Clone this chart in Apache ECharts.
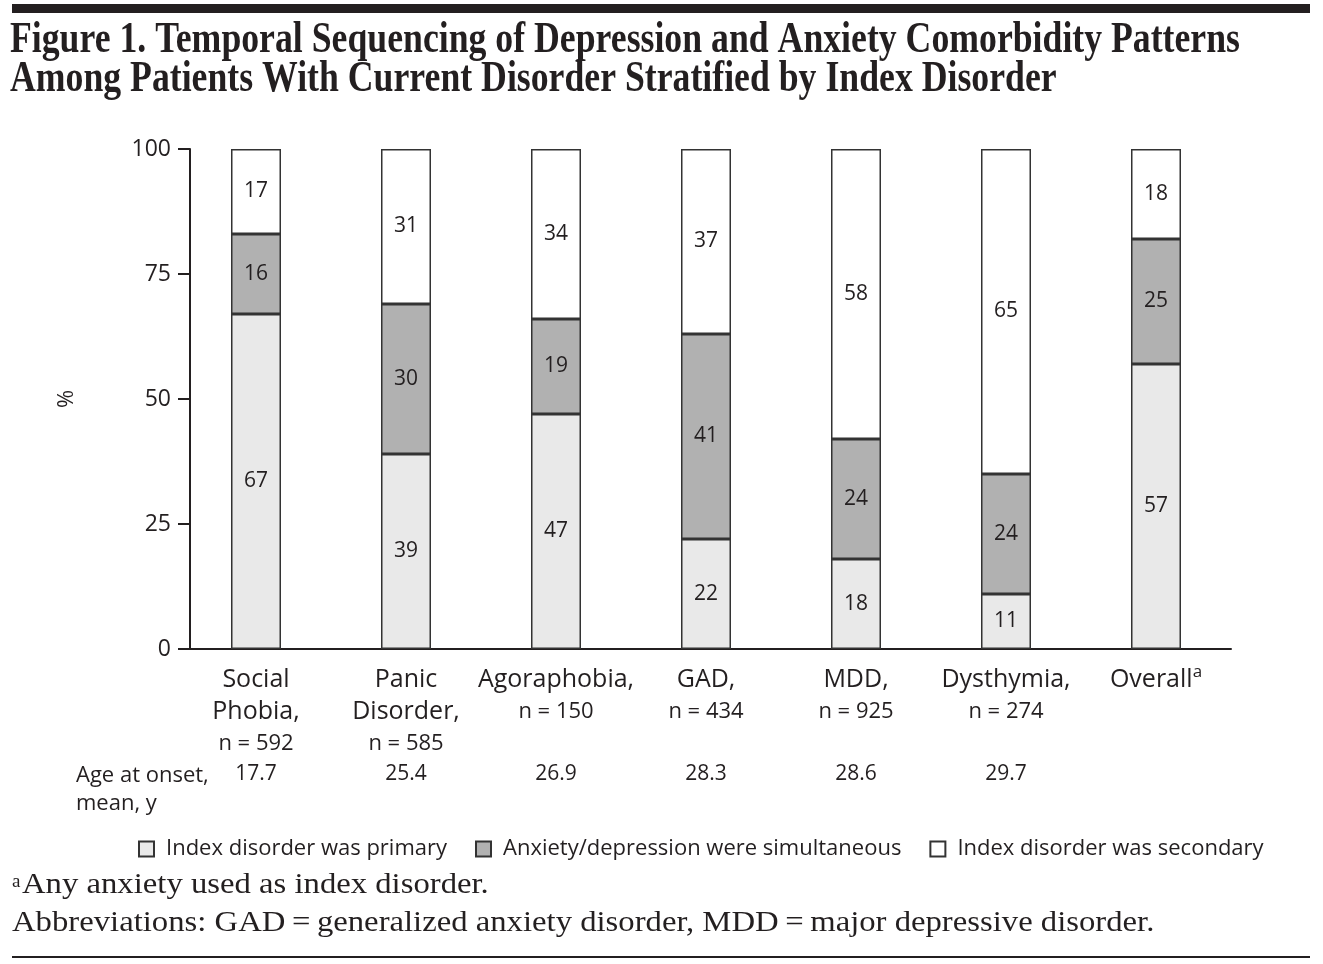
<!DOCTYPE html>
<html>
<head>
<meta charset="utf-8">
<script src="https://cdn.jsdelivr.net/npm/echarts@6/dist/echarts.min.js"></script>
<style>html,body{margin:0;padding:0;background:#fff;}#chart{width:1323px;height:964px;}</style>
</head>
<body>
<div id="chart"></div>
<script>
// ---- data ----
var categories = ['Social Phobia', 'Panic Disorder', 'Agoraphobia', 'GAD', 'MDD', 'Dysthymia', 'Overall'];
var nValues = [592, 585, 150, 434, 925, 274, null];
var ageAtOnset = [17.7, 25.4, 26.9, 28.3, 28.6, 29.7, null];
var primary = [67, 39, 47, 22, 18, 11, 57];
var simultaneous = [16, 30, 19, 41, 24, 24, 25];
var secondary = [17, 31, 34, 37, 58, 65, 18];
var seriesNames = ['Index disorder was primary', 'Anxiety/depression were simultaneous', 'Index disorder was secondary'];
var yTicks = [0, 25, 50, 75, 100];

var FONT = '"Open Sans", "Noto Sans", sans-serif';
var SERIF = '"Liberation Serif", "DejaVu Serif", serif';
var INK = '#231f20';

var chart = echarts.init(document.getElementById('chart'), null, {renderer: 'canvas'});

function catLabel(value) {
  var i = categories.indexOf(value);
  if (value === 'Overall') return '{name|Overall}{sup|a}';
  var parts;
  if (value === 'Social Phobia' || value === 'Panic Disorder') {
    var w = value.split(' ');
    parts = ['{name|' + w[0] + '}', '{name|' + w[1] + ',}'];
  } else {
    parts = ['{name|' + value + ',}'];
  }
  if (nValues[i] != null) parts.push('{n|n = ' + nValues[i] + '}');
  return parts.join('\n');
}

function barSeries(name, data, color) {
  return {
    name: name,
    type: 'bar',
    stack: 'total',
    barWidth: 50,
    data: data,
    itemStyle: {color: color, borderColor: '#333', borderWidth: 1.5},
    label: {show: true, position: 'inside', fontFamily: FONT, fontSize: 21, color: INK},
    emphasis: {disabled: true},
    animation: false
  };
}

var option = {
  animation: false,
  backgroundColor: '#fff',
  grid: {left: 181, right: 92, top: 149, bottom: 315, containLabel: false},
  legend: {
    top: 833,
    left: 133,
    itemWidth: 15,
    itemHeight: 15,
    itemGap: 28,
    icon: 'rect',
    textStyle: {fontFamily: FONT, fontSize: 22, color: INK, padding: [0, 0, 0, 7]},
    data: seriesNames
  },
  xAxis: [{
    type: 'category',
    data: categories,
    axisLine: {show: true, lineStyle: {color: INK, width: 2}},
    axisTick: {show: false},
    axisLabel: {
      interval: 0,
      margin: 15,
      formatter: catLabel,
      rich: {
        name: {fontFamily: FONT, fontSize: 25, color: INK, lineHeight: 32},
        n: {fontFamily: FONT, fontSize: 22, color: INK, lineHeight: 32},
        sup: {fontFamily: FONT, fontSize: 17, color: INK, lineHeight: 32, verticalAlign: 'top', padding: [0, 0, 10, 0]}
      }
    }
  }, {
    type: 'category',
    position: 'bottom',
    offset: 115,
    data: ageAtOnset.map(function (a) { return a == null ? '' : a.toFixed(1); }),
    axisLine: {show: false},
    axisTick: {show: false},
    axisLabel: {interval: 0, margin: 0, fontFamily: FONT, fontSize: 21, color: INK}
  }],
  yAxis: {
    type: 'value',
    min: 0,
    max: 100,
    interval: 25,
    offset: -9,
    name: '%',
    nameLocation: 'middle',
    nameRotate: 90,
    nameGap: 112,
    nameTextStyle: {fontFamily: FONT, fontSize: 22, color: INK},
    axisLine: {show: true, lineStyle: {color: INK, width: 2}},
    axisTick: {show: true, length: 12, lineStyle: {color: INK, width: 2}},
    splitLine: {show: false},
    axisLabel: {
      margin: 19,
      fontFamily: FONT, fontSize: 23, color: INK,
      customValues: yTicks
    }
  },
  series: [
    barSeries(seriesNames[0], primary, '#e9e9e9'),
    barSeries(seriesNames[1], simultaneous, '#b1b1b1'),
    barSeries(seriesNames[2], secondary, '#ffffff')
  ],
  graphic: [
    {type: 'rect', shape: {x: 12, y: 4, width: 1298, height: 9}, style: {fill: INK}, silent: true},
    {type: 'text', x: 10, y: 41, scaleX: 0.812, style: {text: 'Figure 1. Temporal Sequencing of Depression and Anxiety Comorbidity Patterns', font: 'bold 44px ' + SERIF, fill: INK, textVerticalAlign: 'middle'}},
    {type: 'text', x: 10, y: 80, scaleX: 0.812, style: {text: 'Among Patients With Current Disorder Stratified by Index Disorder', font: 'bold 44px ' + SERIF, fill: INK, textVerticalAlign: 'middle'}},
    {type: 'text', x: 76, y: 790, style: {text: 'Age at onset,\nmean, y', font: '22px ' + FONT, fill: INK, lineHeight: 28, textVerticalAlign: 'middle'}},
    {type: 'text', x: 12, y: 873, style: {text: 'a', font: '19px ' + SERIF, fill: INK, textVerticalAlign: 'top'}},
    {type: 'text', x: 22, y: 885, scaleX: 1.09, style: {text: 'Any anxiety used as index disorder.', font: '30px ' + SERIF, fill: INK, textVerticalAlign: 'middle'}},
    {type: 'text', x: 12, y: 923, scaleX: 1.09, style: {text: 'Abbreviations: GAD\u2009=\u2009generalized anxiety disorder, MDD\u2009=\u2009major depressive disorder.', font: '30px ' + SERIF, fill: INK, textVerticalAlign: 'middle'}},
    {type: 'rect', shape: {x: 12, y: 956, width: 1298, height: 2}, style: {fill: INK}, silent: true}
  ]
};

chart.setOption(option);
</script>
</body>
</html>
